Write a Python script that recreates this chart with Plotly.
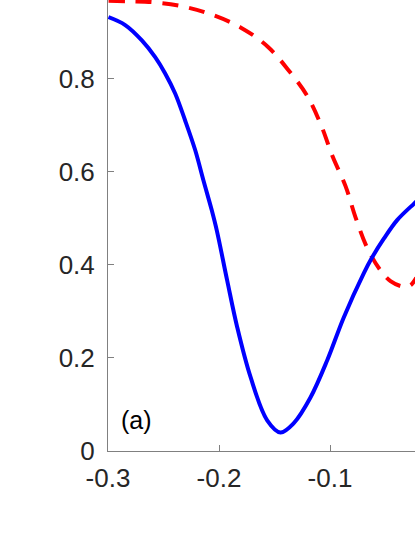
import plotly.graph_objects as go

# Blue solid curve
blue_x = [-0.2996, -0.2845, -0.2695, -0.2575, -0.2485, -0.2395, -0.2305, -0.2214,
          -0.2140, -0.2065, -0.2020, -0.1926, -0.1836, -0.1716, -0.1566, -0.1446,
          -0.1326, -0.1176, -0.1025, -0.0876, -0.0695, -0.0620, -0.0515, -0.0395,
          -0.0245, -0.0223]
blue_y = [0.932, 0.915, 0.882, 0.846, 0.811, 0.768, 0.710, 0.646,
          0.581, 0.517, 0.474, 0.366, 0.266, 0.159, 0.066, 0.040,
          0.060, 0.115, 0.195, 0.287, 0.382, 0.416, 0.456, 0.496,
          0.531, 0.536]

# Red dashed curve
red_x = [-0.2995, -0.2797, -0.2590, -0.2347, -0.2095, -0.1806, -0.1563, -0.1374,
         -0.1203, -0.1077, -0.0977, -0.0860, -0.0770, -0.0662, -0.0545, -0.0455,
         -0.0338, -0.0275, -0.0223]
red_y = [0.967, 0.966, 0.964, 0.956, 0.940, 0.910, 0.869, 0.818,
         0.762, 0.698, 0.633, 0.569, 0.502, 0.435, 0.388, 0.365,
         0.353, 0.356, 0.372]

x_ticks = [-0.3, -0.2, -0.1, 0]
x_ticklabels = ["-0.3", "-0.2", "-0.1", "0"]
y_ticks = [0, 0.2, 0.4, 0.6, 0.8, 1.0]
y_ticklabels = ["0", "0.2", "0.4", "0.6", "0.8", "1"]

panel_label = "(a)"

fig = go.Figure()
fig.add_trace(go.Scatter(x=red_x, y=red_y, mode="lines",
                         line=dict(color="#FF0000", width=4, dash="16px,11px", shape="spline"),
                         showlegend=False, hoverinfo="skip"))
fig.add_trace(go.Scatter(x=blue_x, y=blue_y, mode="lines",
                         line=dict(color="#0000FF", width=4, shape="spline"),
                         showlegend=False, hoverinfo="skip"))

fig.add_annotation(x=-0.2743, y=0.066, text=panel_label, showarrow=False,
                   font=dict(family="Liberation Sans", size=25, color="#000000"))

axis_common = dict(showgrid=False, zeroline=False, showline=True, linecolor="#808080",
                   linewidth=1, ticks="inside", ticklen=6, tickcolor="#808080", tickwidth=1,
                   tickfont=dict(family="Liberation Sans", size=26, color="#262626"),
                   mirror=False, automargin=False)

fig.update_xaxes(range=[-0.3, -0.3 + 307 / 1110], tickvals=x_ticks, ticktext=x_ticklabels,
                 ticklabelstandoff=4, **axis_common)
fig.update_yaxes(range=[0, 451 / 465.5], tickvals=y_ticks, ticktext=y_ticklabels,
                 ticklabelstandoff=7, **axis_common)

fig.update_layout(width=415, height=537, margin=dict(l=108, r=0, t=0, b=86),
                  plot_bgcolor="white", paper_bgcolor="white")

fig.write_html("out.html", config={"displayModeBar": False},
               post_script="document.body.style.margin='0';document.body.style.overflow='hidden';")
